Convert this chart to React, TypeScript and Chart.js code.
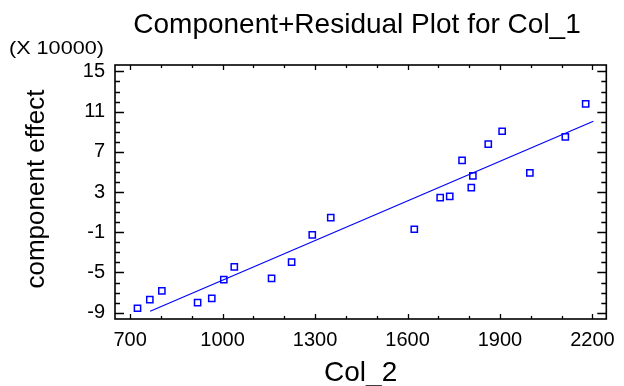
import React, { useEffect, useRef } from 'react';
import { Chart, registerables } from 'chart.js';

Chart.register(...registerables);

// Data (component effect in units of 10000)
const col2 = [724, 764, 803, 919, 965, 1004, 1038, 1159, 1224, 1291, 1351, 1622, 1706, 1737, 1777, 1807, 1812, 1862, 1907, 1997, 2112, 2178];
const componentEffect = [-8.56, -7.7, -6.83, -8.0, -7.57, -5.71, -4.44, -5.58, -3.98, -1.26, 0.46, -0.7, 2.45, 2.58, 6.16, 3.45, 4.61, 7.76, 9.05, 4.91, 8.49, 11.78];
const fitX = [765, 2203];
const fitY = [-8.86, 10.04];
const xTicks = [700, 1000, 1300, 1600, 1900, 2200];
const yTicks = [-9, -5, -1, 3, 7, 11, 15];
const xMinorStep = 100;
const yMinorStep = 1;

const FONT = "'Liberation Sans', Arial, Helvetica, sans-serif";
const BLUE = 'rgb(0,0,255)';

const framePlugin = {
  id: 'frame',
  afterDatasetsDraw(chart: any) {
    const { ctx, chartArea: a, scales } = chart;
    const x = scales.x;
    const y = scales.y;
    ctx.save();
    ctx.strokeStyle = '#000';
    ctx.lineWidth = 1.6;
    ctx.strokeRect(a.left, a.top, a.right - a.left, a.bottom - a.top);
    ctx.lineWidth = 1.3;
    ctx.beginPath();
    for (let v = xTicks[0]; v <= xTicks[xTicks.length - 1]; v += xMinorStep) {
      const px = Math.round(x.getPixelForValue(v)) + 0.5;
      const len = xTicks.includes(v) ? 5 : 3;
      ctx.moveTo(px, a.bottom);
      ctx.lineTo(px, a.bottom - len);
      ctx.moveTo(px, a.top);
      ctx.lineTo(px, a.top + len);
    }
    for (let v = yTicks[0]; v <= yTicks[yTicks.length - 1]; v += yMinorStep) {
      const py = Math.round(y.getPixelForValue(v)) + 0.5;
      const len = yTicks.includes(v) ? 9 : 5;
      ctx.moveTo(a.left, py);
      ctx.lineTo(a.left + len, py);
      ctx.moveTo(a.right, py);
      ctx.lineTo(a.right - len, py);
    }
    ctx.stroke();
    ctx.restore();
  },
  afterDraw(chart: any) {
    const { ctx, chartArea: a } = chart;
    ctx.save();
    ctx.fillStyle = '#000';
    ctx.textBaseline = 'alphabetic';
    // Title
    ctx.font = `28px ${FONT}`;
    ctx.textAlign = 'center';
    ctx.fillText('Component+Residual Plot for Col_1', 357, 33);
    // Multiplier
    ctx.save();
    ctx.font = `18px ${FONT}`;
    ctx.textAlign = 'left';
    ctx.translate(9, 54);
    ctx.scale(1.2, 1);
    ctx.fillText('(X 10000)', 0, 0);
    ctx.restore();
    // X title
    ctx.font = `28px ${FONT}`;
    ctx.textAlign = 'center';
    ctx.fillText('Col_2', (a.left + a.right) / 2, 381);
    // Y title
    ctx.font = `26px ${FONT}`;
    ctx.translate(43.5, (a.top + a.bottom) / 2 - 3);
    ctx.rotate(-Math.PI / 2);
    ctx.textAlign = 'center';
    ctx.fillText('component effect', 0, 0);
    ctx.restore();
  },
};

export default function App() {
  const canvasRef = useRef<HTMLCanvasElement | null>(null);

  useEffect(() => {
    document.body.style.margin = '0';
    const canvas = canvasRef.current;
    if (!canvas) return;
    const points = col2.map((v, i) => ({ x: v, y: componentEffect[i] }));
    const fit = fitX.map((v, i) => ({ x: v, y: fitY[i] }));
    const chart = new Chart(canvas, {
      type: 'scatter',
      data: {
        datasets: [
          {
            type: 'line',
            data: fit,
            borderColor: BLUE,
            borderWidth: 1.2,
            pointRadius: 0,
            fill: false,
            order: 2,
          } as any,
          {
            data: points,
            pointStyle: 'rect',
            pointRadius: 4.4,
            pointBorderWidth: 1.5,
            pointBorderColor: BLUE,
            pointBackgroundColor: 'rgba(0,0,0,0)',
            borderColor: BLUE,
            backgroundColor: 'rgba(0,0,0,0)',
            order: 1,
          },
        ],
      },
      options: {
        responsive: false,
        animation: false,
        layout: { padding: { top: 65, right: 11, left: 0, bottom: 0 } },
        plugins: { legend: { display: false }, tooltip: { enabled: false }, title: { display: false } },
        scales: {
          x: {
            type: 'linear',
            min: 651,
            max: 2245,
            grid: { display: false, drawTicks: false },
            border: { display: false },
            afterBuildTicks: (s: any) => {
              s.ticks = xTicks.map((v) => ({ value: v }));
            },
            afterFit: (s: any) => {
              s.height = 67;
            },
            ticks: {
              autoSkip: false,
              maxRotation: 0,
              padding: 9,
              color: '#000',
              font: { family: FONT, size: 20 },
              callback: (v: any) => String(v),
            },
          },
          y: {
            type: 'linear',
            min: -9.63,
            max: 15.64,
            grid: { display: false, drawTicks: false },
            border: { display: false },
            afterBuildTicks: (s: any) => {
              s.ticks = yTicks.map((v) => ({ value: v }));
            },
            afterFit: (s: any) => {
              s.width = 115;
            },
            ticks: {
              autoSkip: false,
              padding: 10,
              color: '#000',
              font: { family: FONT, size: 20 },
              callback: (v: any) => String(v),
            },
          },
        },
      },
      plugins: [framePlugin],
    });
    return () => chart.destroy();
  }, []);

  return (
    <div style={{ width: 624, height: 386, background: '#fff' }}>
      <canvas ref={canvasRef} width={624} height={386} style={{ display: 'block' }} />
    </div>
  );
}
